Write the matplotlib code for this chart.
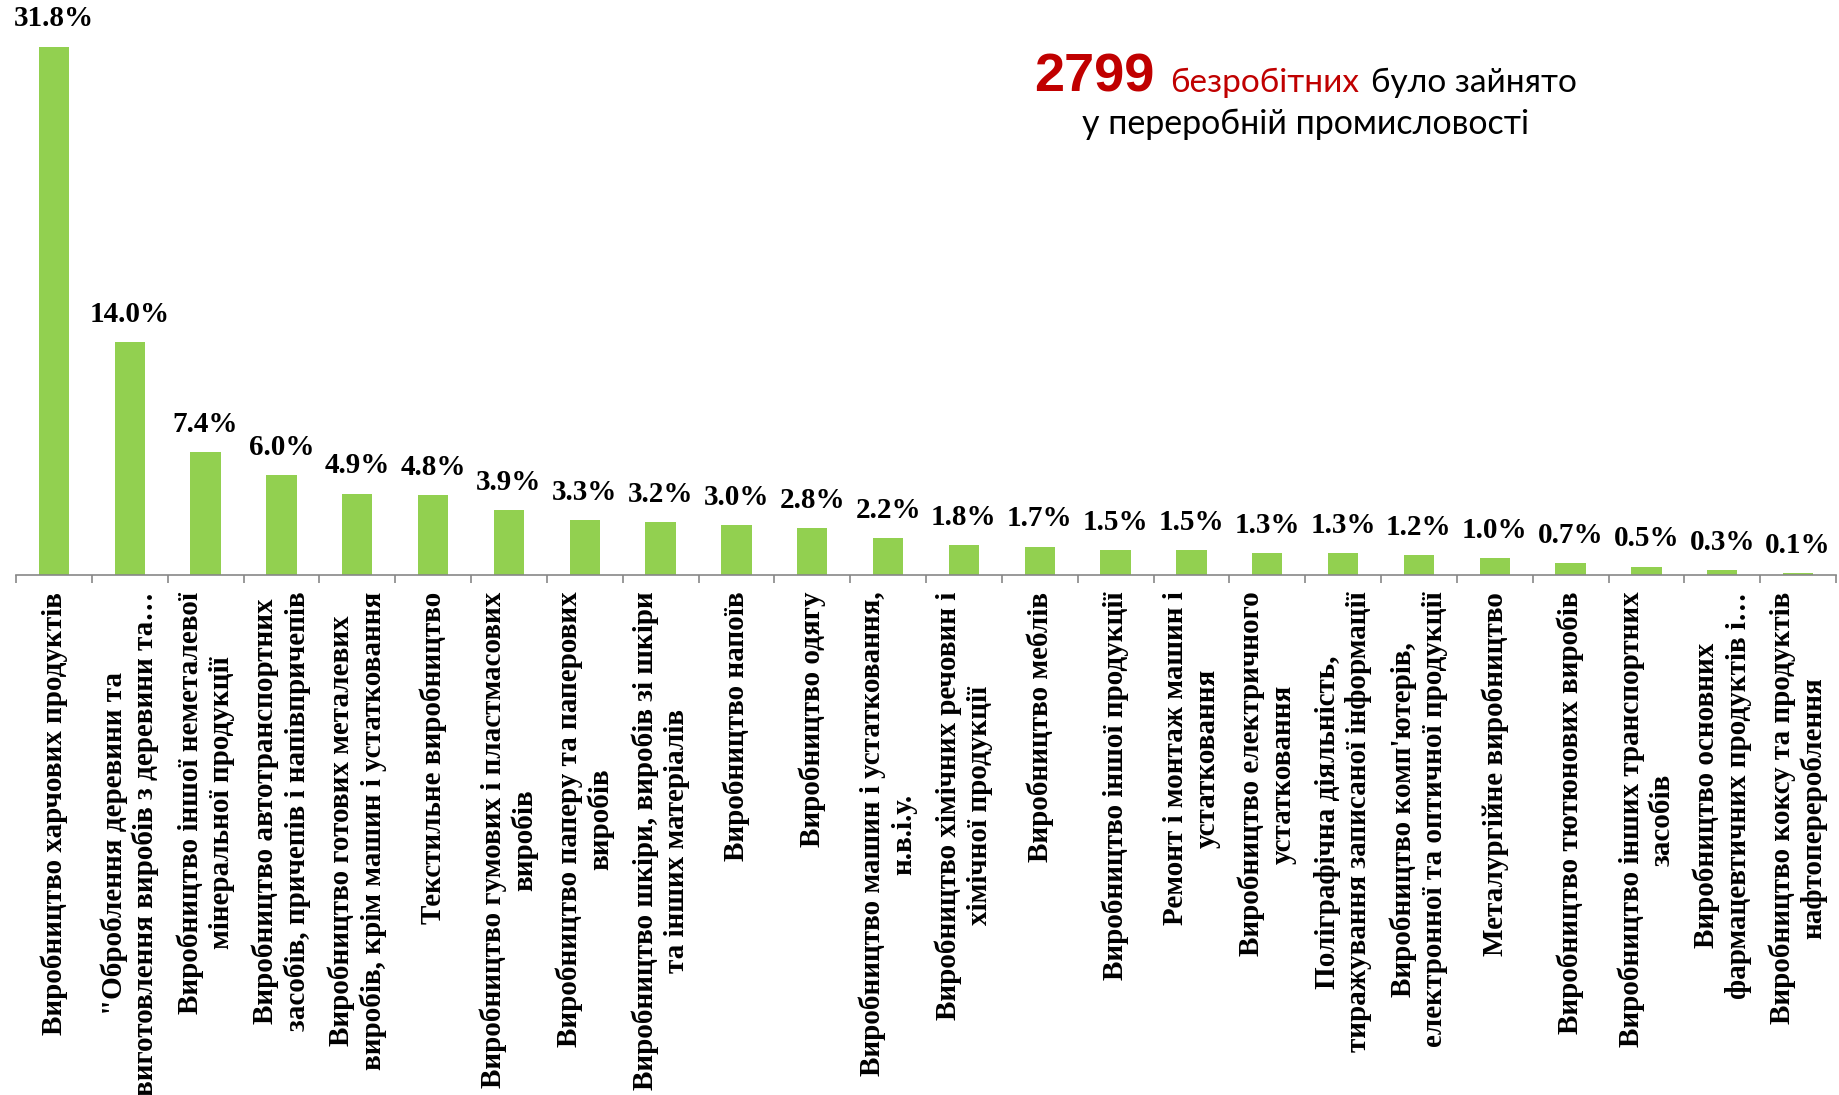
import matplotlib
matplotlib.use("Agg")
import matplotlib.pyplot as plt
import numpy as np

categories = [
    "Виробництво харчових продуктів",
    "\"Оброблення деревини та\nвиготовлення виробів з деревини та…",
    "Виробництво іншої неметалевої\nмінеральної продукції",
    "Виробництво автотранспортних\nзасобів, причепів і напівпричепів",
    "Виробництво готових металевих\nвиробів, крім машин і устатковання",
    "Текстильне виробництво",
    "Виробництво гумових і пластмасових\nвиробів",
    "Виробництво паперу та паперових\nвиробів",
    "Виробництво шкіри, виробів зі шкіри\nта інших матеріалів",
    "Виробництво напоїв",
    "Виробництво одягу",
    "Виробництво машин і устатковання,\nн.в.і.у.",
    "Виробництво хімічних речовин і\nхімічної продукції",
    "Виробництво меблів",
    "Виробництво іншої продукції",
    "Ремонт і монтаж машин і\nустатковання",
    "Виробництво електричного\nустатковання",
    "Поліграфічна діяльність,\nтиражування записаної інформації",
    "Виробництво комп'ютерів,\nелектронної та оптичної продукції",
    "Металургійне виробництво",
    "Виробництво тютюнових виробів",
    "Виробництво інших транспортних\nзасобів",
    "Виробництво основних\nфармацевтичних продуктів і…",
    "Виробництво коксу та продуктів\nнафтоперероблення",
]
shares = [31.8, 14.0, 7.4, 6.0, 4.9, 4.8, 3.9, 3.3, 3.2, 3.0, 2.8, 2.2,
          1.8, 1.7, 1.5, 1.5, 1.3, 1.3, 1.2, 1.0, 0.7, 0.5, 0.3, 0.1]
total_unemployed = 2799

W, H = 1839, 1095
fig = plt.figure(figsize=(W / 100, H / 100), dpi=100)
ax = fig.add_axes([16 / W, 1 - 575 / H, 1820 / W, 575 / H])

x = np.arange(len(categories))
ax.bar(x, shares, width=0.4, color="#92D050")
ax.set_xlim(-0.5, len(categories) - 0.5)
ax.set_ylim(0, 34.6)

for xi, v in zip(x, shares):
    ax.annotate(f"{v:.1f}%", (xi, v), xytext=(0, 20), textcoords="offset points",
                ha="center", va="center", fontsize=21, fontweight="bold",
                family="Liberation Serif")

for s in ["top", "right", "left"]:
    ax.spines[s].set_visible(False)
ax.spines["bottom"].set_color("#878787")
ax.spines["bottom"].set_linewidth(1.2)
ax.set_yticks([])

ax.set_xticks(x)
ax.set_xticklabels(categories, rotation=90, fontsize=21, fontweight="bold",
                   family="Liberation Serif", va="top", ha="center",
                   multialignment="center")
ax.tick_params(axis="x", which="major", length=0, pad=12)
ax.set_xticks(np.arange(len(categories) + 1) - 0.5, minor=True)
ax.tick_params(axis="x", which="minor", length=6, width=1.2, color="#878787")

# header text, pieces placed one after another
fig.canvas.draw()
r = fig.canvas.get_renderer()
base1 = 1 - 92 / H
t1 = fig.text(1034 / W, base1, str(total_unemployed), color="#C00000", fontsize=39,
              fontweight="bold", family="Liberation Sans", va="baseline", ha="left")
e = t1.get_window_extent(r)
t2 = fig.text((e.x1 + 16) / W, base1, "безробітних", color="#C00000", fontsize=24,
              family="Lato", va="baseline", ha="left")
e = t2.get_window_extent(r)
t3 = fig.text((e.x1 + 12) / W, base1, "було зайнято", color="black", fontsize=24,
              family="Lato", va="baseline", ha="left")
e = t3.get_window_extent(r)
mid = (1034 + e.x1) / 2
fig.text(mid / W, 1 - 134 / H, "у переробній промисловості", color="black",
         fontsize=24.5, family="Lato", va="baseline", ha="center")

fig.savefig("out.png", dpi=100)
